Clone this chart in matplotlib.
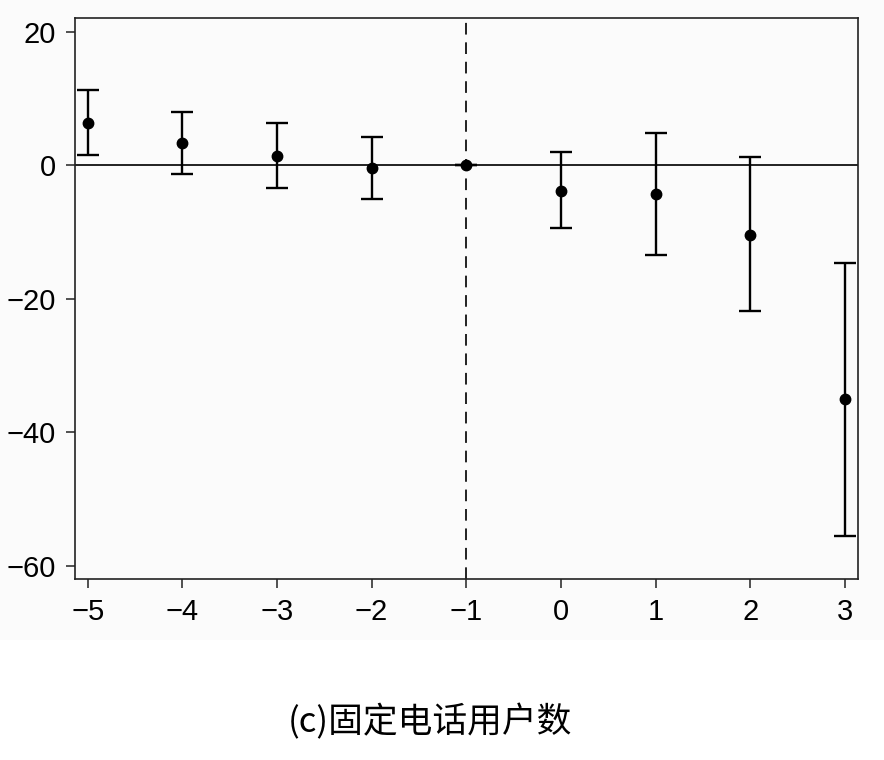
import numpy as np
import matplotlib
matplotlib.use('Agg')
import matplotlib.pyplot as plt
from matplotlib.patches import Rectangle

# event-time coefficients and 95% CI
periods = [-5, -4, -3, -2, -1, 0, 1, 2, 3]
coef = [6.3, 3.35, 1.4, -0.4, 0.0, -3.8, -4.3, -10.4, -35.1]
ci_low = [1.5, -1.25, -3.4, -5.1, 0.0, -9.4, -13.5, -21.9, -55.5]
ci_high = [11.3, 8.0, 6.3, 4.3, 0.0, 2.0, 4.9, 1.3, -14.6]
yticks = [-60, -40, -20, 0, 20]
caption = '(c)固定电话用户数'

plt.rcParams['font.family'] = ['Liberation Sans', 'DejaVu Sans']
plt.rcParams['font.size'] = 21

fig = plt.figure(figsize=(8.84, 7.6), dpi=100)
fig.patches.append(Rectangle((0, 1 - 640 / 760), 1, 640 / 760, transform=fig.transFigure,
                             facecolor='#fbfbfb', edgecolor='none', zorder=-10))
ax = fig.add_axes([0.0843, 0.2382, 0.8863, 0.7375])
ax.set_facecolor('none')

coef = np.asarray(coef)
yerr = np.vstack([coef - np.asarray(ci_low), np.asarray(ci_high) - coef])
ax.axhline(0, color='#222222', lw=1.4, zorder=1)
ax.axvline(-1, color='#222222', lw=1.4, ls=(0, (6, 4)), zorder=1)
ax.errorbar(periods, coef, yerr=yerr, fmt='o', color='black', ms=7.5,
            elinewidth=1.7, capsize=8, capthick=1.7, zorder=3)

ax.set_xlim(-5.14, 3.14)
ax.set_ylim(-62, 22)
ax.set_xticks(periods)
ax.set_yticks(yticks)
ax.tick_params(direction='out', length=6.5, width=1.1, color='#222222', pad=7)
for s in ax.spines.values():
    s.set_linewidth(1.2)
    s.set_color('#222222')

fig.text(430 / 884, 1 - 722 / 760, caption, ha='center', va='center', fontsize=25,
         family=['Noto Sans CJK SC', 'DejaVu Sans'])

fig.savefig('out.png', dpi=100)
